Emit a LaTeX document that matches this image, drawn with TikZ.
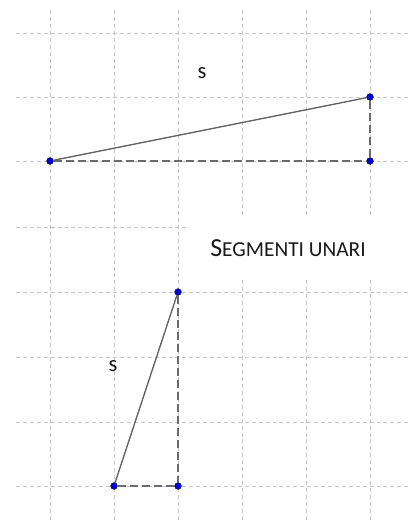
\documentclass[tikz,border=0pt]{standalone}
\usepackage{fontspec}
\setmainfont{Carlito}
\usepackage{tikz}
\usetikzlibrary{positioning}
\tikzset{
  sgm/.style={x=0.75pt, y=0.75pt},
  g grid/.style={black!22, line width=0.6pt, dash pattern=on 3pt off 2.2pt},
  g seg/.style={black!62, line width=1pt},
  g leg/.style={black!58, line width=1.1pt, dash pattern=on 6pt off 3pt},
  g pt/.style={circle, draw=black!70!blue, fill=blue!85!black, line width=0.4pt,
               minimum size=5pt, inner sep=0pt},
  g lab/.style={font=\fontsize{17}{19}\selectfont, text=black!90, inner sep=0pt},
  g title/.style={font=\fontsize{19.5}{22}\selectfont, text=black!90, inner sep=0pt},
}
\begin{document}
\begin{tikzpicture}[sgm]
\useasboundingbox (0, 0) rectangle (409, -522);
% ---- grid ----
\foreach \gx in {50, 114, 178} \draw[g grid] (\gx, -10) -- (\gx, -522);
\foreach \gx in {242, 306, 370} {
  \draw[g grid] (\gx, -10) -- (\gx, -217);
  \draw[g grid] (\gx, -280) -- (\gx, -522);}
\foreach \gy in {33, 97, 161, 292, 357, 422, 486} \draw[g grid] (16, -\gy) -- (409, -\gy);
\draw[g grid] (16, -227) -- (188, -227);
% ---- upper segment ----
\node[g pt] (a1) at (50, -161) {};
\node[g pt] (a2) at (370, -97) {};
\node[g pt] (a3) at (370, -161) {};
\draw[g leg] (a1) -- (a3); \draw[g leg] (a2) -- (a3);
\draw[g seg] (a1) -- (a2);
\node[g lab] (s1) at (202, -73) {s};
% ---- title ----
\node[g title, anchor=base west] (t1) at (210, -256) {S\fontsize{16}{18}\selectfont EGMENTI UNARI};
% ---- lower segment ----
\node[g pt] (b1) at (114, -486) {};
\node[g pt] (b2) at (178, -292) {};
\node[g pt] (b3) at (178, -486) {};
\draw[g leg] (b1) -- (b3); \draw[g leg] (b2) -- (b3);
\draw[g seg] (b1) -- (b2);
\node[g lab] (s2) at (113, -366) {s};
\end{tikzpicture}
\end{document}
